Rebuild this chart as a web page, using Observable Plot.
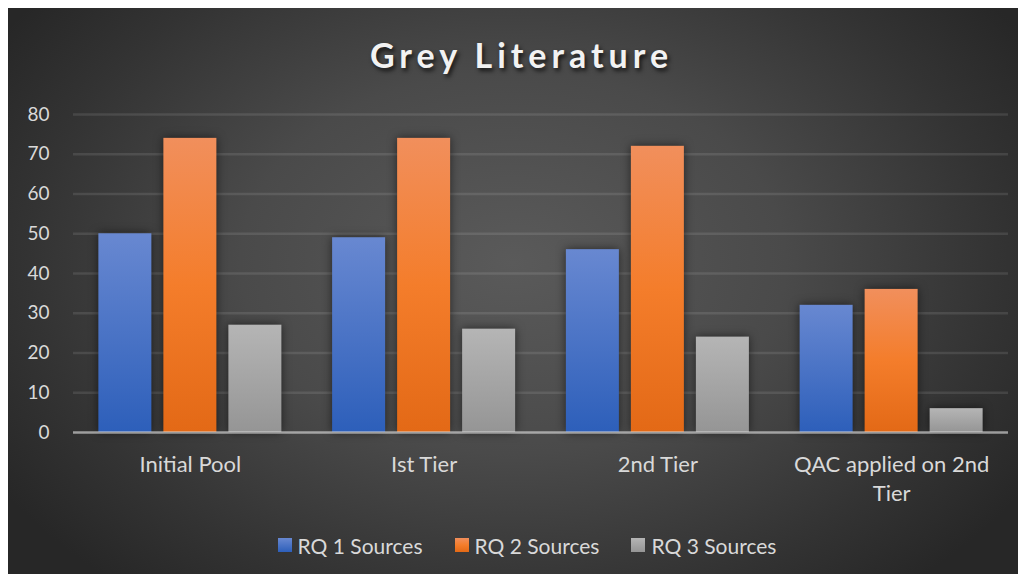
<!DOCTYPE html>
<html>
<head>
<meta charset="utf-8">
<script src="https://cdn.jsdelivr.net/npm/d3@7"></script>
<script src="https://cdn.jsdelivr.net/npm/@observablehq/plot@0.6"></script>
<style>
  html, body { margin: 0; padding: 0; background: #ffffff; }
  #card {
    position: absolute; left: 8px; top: 8px; width: 1010px; height: 566px;
    background: radial-gradient(ellipse 60% 75% at 50% 45%, #5a5a5a 0%, #4a4a4a 45%, #333333 80%, #272727 100%);
    overflow: hidden; font-family: Lato, "Open Sans", sans-serif;
  }
  #title {
    position: absolute; left: 0; top: 22px; width: 100%; height: 50px; line-height: 50px;
    box-sizing: border-box; padding-left: 17px;
    text-align: center; color: #f2f2f2; font-size: 34px; font-weight: bold; letter-spacing: 5px;
    text-shadow: 2px 3px 4px rgba(0,0,0,0.7);
  }
  .layer { position: absolute; left: 0; top: 80px; }
  #legend {
    position: absolute; left: 0; top: 525px; width: 100%; height: 24px;
    box-sizing: border-box; padding-left: 28px;
    display: flex; justify-content: center; align-items: center; color: #d9d9d9; font-size: 21px;
  }
  .item { display: flex; align-items: center; margin: 0 16px; }
  .sw { width: 14px; height: 14px; margin-right: 6px; }
  svg g[aria-label="bar"] rect { filter: drop-shadow(0px 0px 5px rgba(0,0,0,0.55)); }
</style>
</head>
<body>
<div id="card">
  <div id="title">Grey Literature</div>
  <div id="grid" class="layer"></div>
  <div id="bars" class="layer"></div>
  <div id="base" class="layer"></div>
  <div id="legend"></div>
</div>
<script>
const categories = ["Initial Pool", "Ist Tier", "2nd Tier", "QAC applied on 2nd Tier"];
const categoryLabels = ["Initial Pool", "Ist Tier", "2nd Tier", "QAC applied on 2nd\nTier"];
const series = ["RQ 1 Sources", "RQ 2 Sources", "RQ 3 Sources"];
const rq1 = [50, 49, 46, 32];
const rq2 = [74, 74, 72, 36];
const rq3 = [27, 26, 24, 6];
const yTicks = [0, 10, 20, 30, 40, 50, 60, 70, 80];
const gradients = [
  [["0%", "#6888d1"], ["100%", "#2d5fba"]],
  [["0%", "#f18f5c"], ["50%", "#f47d2b"], ["100%", "#e36916"]],
  [["0%", "#b5b5b5"], ["100%", "#959595"]]
];

const values = [rq1, rq2, rq3];
const data = categories.flatMap((c, i) => series.map((s, j) => ({category: c, series: s, value: values[j][i]})));

const base = {
  width: 1010,
  height: 424,
  marginLeft: 65,
  marginRight: 10,
  marginTop: 26,
  marginBottom: 80,
  style: {background: "transparent", color: "#d9d9d9", fontFamily: "Lato, 'Open Sans', sans-serif", fontSize: "19px", overflow: "visible"},
  y: {domain: [0, 80], axis: null}
};

// Layer 1: gridlines and y axis across the full plot width
const gridChart = Plot.plot({
  ...base,
  marks: [
    Plot.ruleY(yTicks.slice(1), {stroke: "#ffffff", strokeOpacity: 0.1, strokeWidth: 2.5}),
    Plot.axisY(yTicks, {tickSize: 0, tickPadding: 24, label: null, fontSize: 19, fill: "#d9d9d9"})
  ]
});

// Layer 2: grouped bars (faceted by category) and the category axis
const barChart = Plot.plot({
  ...base,
  fx: {domain: categories, paddingInner: 0.217, paddingOuter: 0.1085, round: false, axis: null, label: null},
  x: {domain: series, paddingInner: 0.1846, paddingOuter: 0, round: false, axis: null},
  marks: [
    ...series.map((s, j) => Plot.barY(data.filter(d => d.series === s), {
      fx: "category", x: "series", y: "value", fill: `url(#grad${j})`
    })),
    Plot.axisFx({anchor: "bottom", tickSize: 0, tickPadding: 19, label: null, fontSize: 22, lineHeight: 1.32, fill: "#d9d9d9",
      tickFormat: d => categoryLabels[categories.indexOf(d)]})
  ]
});

const defs = d3.select(barChart).insert("defs", ":first-child");
gradients.forEach((stops, j) => {
  const g = defs.append("linearGradient").attr("id", `grad${j}`).attr("x1", 0).attr("y1", 0).attr("x2", 0).attr("y2", 1);
  stops.forEach(([o, c]) => g.append("stop").attr("offset", o).attr("stop-color", c));
});

// Layer 3: translucent baseline over the bars
const baseChart = Plot.plot({
  ...base,
  marks: [
    Plot.ruleY([0], {stroke: "#d9d9d9", strokeOpacity: 0.65, strokeWidth: 2.5})
  ]
});

document.getElementById("grid").appendChild(gridChart);
document.getElementById("bars").appendChild(barChart);
document.getElementById("base").appendChild(baseChart);

const legend = document.getElementById("legend");
series.forEach((s, j) => {
  const item = document.createElement("div");
  item.className = "item";
  const sw = document.createElement("div");
  sw.className = "sw";
  sw.style.background = `linear-gradient(${gradients[j].map(([o, c]) => c + " " + o).join(", ")})`;
  const t = document.createElement("span");
  t.textContent = s;
  item.appendChild(sw);
  item.appendChild(t);
  legend.appendChild(item);
});
</script>
</body>
</html>
